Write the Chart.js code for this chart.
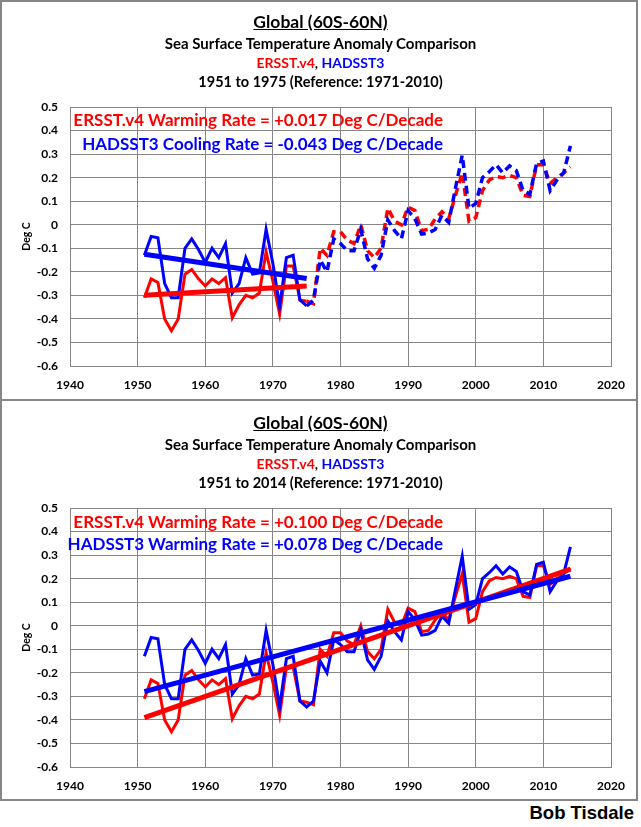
<!DOCTYPE html>
<html>
<head>
<meta charset="utf-8">
<script src="https://cdn.jsdelivr.net/npm/chart.js@4/dist/chart.umd.min.js"></script>
<style>
  body { margin: 0; background: #fff; }
  #page { position: relative; width: 641px; height: 827px; overflow: hidden;
          font-family: Lato, 'Open Sans', sans-serif; font-weight: bold; color: #000; }
  canvas { position: absolute; left: 0; }
  .frame { position: absolute; left: 0; width: 638px; border: 2px solid #868686; box-sizing: border-box; pointer-events: none; }
  .t { position: absolute; left: 0; width: 641px; text-align: center; line-height: 20px; white-space: nowrap; }
  .rate { position: absolute; right: 198px; text-align: right; line-height: 22px; font-size: 17px; white-space: nowrap; }
  .red { color: #ff0000; }
  .blue { color: #0000ff; }
  .sign { position: absolute; right: 7px; top: 802px; font-family: 'Liberation Sans', Arial, sans-serif;
          font-size: 18.5px; line-height: 22px; font-weight: bold; }
</style>
</head>
<body>
<div id="page">
  <canvas id="topChart" width="641" height="400" style="top:0"></canvas>
  <canvas id="bottomChart" width="641" height="400" style="top:401px"></canvas>
  <div class="frame" style="top:0;height:401px"></div>
  <div class="frame" style="top:399px;height:402px"></div>

  <!-- panneau 1 -->
  <div class="t" style="top:12px;font-size:17.5px"><u>Global (60S-60N)</u></div>
  <div class="t" style="top:33px;font-size:15px">Sea Surface Temperature Anomaly Comparison</div>
  <div class="t" style="top:53px;font-size:14px"><span class="red">ERSST.v4</span>, <span class="blue">HADSST3</span></div>
  <div class="t" style="top:72px;font-size:14.5px">1951 to 1975 (Reference: 1971-2010)</div>
  <div class="rate red" style="top:109px">ERSST.v4 Warming Rate = +0.017 Deg C/Decade</div>
  <div class="rate blue" style="top:133px">HADSST3 Cooling Rate = -0.043 Deg C/Decade</div>

  <!-- panneau 2 -->
  <div class="t" style="top:413px;font-size:17.5px"><u>Global (60S-60N)</u></div>
  <div class="t" style="top:434px;font-size:15px">Sea Surface Temperature Anomaly Comparison</div>
  <div class="t" style="top:454px;font-size:14px"><span class="red">ERSST.v4</span>, <span class="blue">HADSST3</span></div>
  <div class="t" style="top:473px;font-size:14.5px">1951 to 2014 (Reference: 1971-2010)</div>
  <div class="rate red" style="top:511px">ERSST.v4 Warming Rate = +0.100 Deg C/Decade</div>
  <div class="rate blue" style="top:533px">HADSST3 Warming Rate = +0.078 Deg C/Decade</div>

  <div class="sign">Bob Tisdale</div>
</div>

<script>
/* ------------------------------------------------------------
   Données
------------------------------------------------------------ */
const years = Array.from({ length: 64 }, (_, i) => 1951 + i);   // 1951 … 2014

const ersst = [
  -0.31, -0.23, -0.245, -0.40, -0.45, -0.40, -0.21, -0.19, -0.23, -0.26,
  -0.23, -0.25, -0.225, -0.395, -0.34, -0.30, -0.31, -0.29, -0.115, -0.24,
  -0.38, -0.175, -0.175, -0.32, -0.325, -0.335, -0.10, -0.13, -0.03, -0.03,
  -0.065, -0.08, 0.0, -0.11, -0.14, -0.10, 0.07, 0.015, 0.0, 0.075,
  0.06, -0.025, -0.02, 0.025, 0.055, 0.025, 0.125, 0.22, 0.015, 0.03,
  0.145, 0.19, 0.205, 0.20, 0.21, 0.20, 0.125, 0.12, 0.255, 0.255,
  0.175, 0.20, 0.22, 0.245
];

const hadsst = [
  -0.13, -0.05, -0.055, -0.25, -0.31, -0.31, -0.10, -0.06, -0.105, -0.16,
  -0.10, -0.14, -0.08, -0.29, -0.25, -0.14, -0.21, -0.205, -0.02, -0.165,
  -0.345, -0.14, -0.13, -0.32, -0.345, -0.32, -0.15, -0.20, -0.06, -0.08,
  -0.11, -0.11, -0.02, -0.145, -0.185, -0.13, 0.02, -0.025, -0.06, 0.06,
  0.025, -0.04, -0.035, -0.02, 0.04, 0.01, 0.155, 0.295, 0.07, 0.09,
  0.20, 0.225, 0.255, 0.22, 0.25, 0.23, 0.145, 0.13, 0.26, 0.27,
  0.145, 0.19, 0.22, 0.335
];

// tendances : [début, fin]
const trendYearsShort = [1951, 1975];
const ersstTrendShort  = [-0.30, -0.26];
const hadsstTrendShort = [-0.125, -0.228];

const trendYearsLong = [1951, 2014];
const ersstTrendLong  = [-0.39, 0.24];
const hadsstTrendLong = [-0.28, 0.21];

const RED = '#ff0000';
const BLUE = '#0000ff';
const GRID = '#868686';

/* ------------------------------------------------------------
   Utilitaires
------------------------------------------------------------ */
const pts = (xs, ys) => xs.map((x, i) => ({ x, y: ys[i] }));
const upTo = (xs, ys, last) => pts(xs, ys).filter(p => p.x <= last);
const from = (xs, ys, first) => pts(xs, ys).filter(p => p.x >= first);

function line(data, color, width, dash) {
  return {
    data, borderColor: color, backgroundColor: color, borderWidth: width,
    borderDash: dash || [], pointRadius: 0, tension: 0, fill: false
  };
}

const tickFont = { family: 'Lato', weight: 'bold', size: 12 };

function chartOptions() {
  return {
    responsive: false,
    animation: false,
    layout: { padding: { left: 0, right: 30, top: 107, bottom: 0 } },
    plugins: { legend: { display: false }, tooltip: { enabled: false } },
    scales: {
      x: {
        type: 'linear', min: 1940, max: 2020,
        ticks: { stepSize: 10, color: '#000', font: tickFont, padding: 12, maxRotation: 0,
                 callback: v => String(v) },
        grid: { color: GRID, lineWidth: 1, drawTicks: false },
        border: { color: GRID, width: 1 },
        afterFit: s => { s.height = 34; }
      },
      y: {
        min: -0.6, max: 0.5,
        ticks: { stepSize: 0.1, color: '#000', font: tickFont, padding: 12,
                 callback: v => String(Number(v.toFixed(1))) },
        grid: { color: GRID, lineWidth: 1, drawTicks: false },
        border: { color: GRID, width: 1 },
        title: { display: true, text: 'Deg C', color: '#000',
                 font: { family: 'Lato', weight: 'bold', size: 10.5 }, padding: { top: 20, bottom: 0 } },
        afterFit: s => { s.width = 70; }
      }
    }
  };
}

/* ------------------------------------------------------------
   1.  1951 – 1975 (pointillés ensuite)
------------------------------------------------------------ */
new Chart(document.getElementById('topChart'), {
  type: 'line',
  data: {
    datasets: [
      line(pts(trendYearsShort, hadsstTrendShort), BLUE, 5),
      line(pts(trendYearsShort, ersstTrendShort), RED, 5),
      line(upTo(years, hadsst, 1975), BLUE, 3),
      line(from(years, hadsst, 1975), BLUE, 3.5, [8, 5]),
      line(upTo(years, ersst, 1975), RED, 3),
      line(from(years, ersst, 1975), RED, 3.5, [8, 5])
    ]
  },
  options: chartOptions()
});

/* ------------------------------------------------------------
   2.  1951 – 2014
------------------------------------------------------------ */
new Chart(document.getElementById('bottomChart'), {
  type: 'line',
  data: {
    datasets: [
      line(pts(trendYearsLong, hadsstTrendLong), BLUE, 5),
      line(pts(trendYearsLong, ersstTrendLong), RED, 5),
      line(pts(years, hadsst), BLUE, 3),
      line(pts(years, ersst), RED, 3)
    ]
  },
  options: chartOptions()
});
</script>
</body>
</html>
